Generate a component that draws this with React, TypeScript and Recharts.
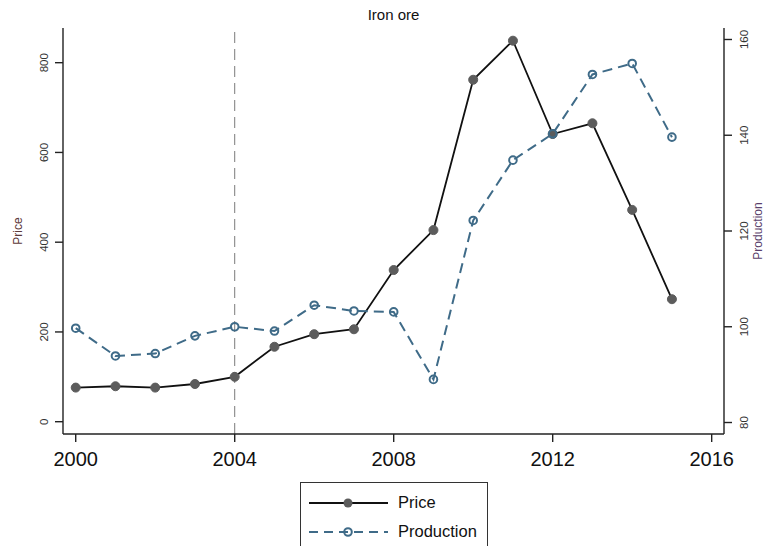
import { ComposedChart, Line, XAxis, YAxis, ReferenceLine, Legend } from 'recharts';

const years = [2000, 2001, 2002, 2003, 2004, 2005, 2006, 2007, 2008, 2009, 2010, 2011, 2012, 2013, 2014, 2015];
const price = [76, 79, 76, 84, 100, 167, 195, 206, 338, 427, 762, 849, 641, 665, 472, 273];
const production = [99.7, 93.9, 94.4, 98.1, 100.0, 99.1, 104.5, 103.3, 103.1, 89.0, 122.2, 134.8, 140.3, 152.7, 155.0, 139.6];

const yearTicks = [2000, 2004, 2008, 2012, 2016];
const priceTicks = [0, 200, 400, 600, 800];
const productionTicks = [80, 100, 120, 140, 160];

const FONT = '"Liberation Sans", Arial, Helvetica, sans-serif';
const PRICE_LINE = '#111111';
const PRICE_DOT = '#5c5c5c';
const PROD_COLOR = '#3f6b88';

const data = years.map((year, i) => ({ year, price: price[i], production: production[i] }));

// vertical tick labels, reading bottom to top
const LeftTick = ({ x, y, payload }: any) => {
  const bx = x - 5;
  return (
    <text x={bx} y={y} transform={`rotate(-90, ${bx}, ${y})`} textAnchor="middle" fontSize={11.5} fill="#333" fontFamily={FONT}>
      {payload.value}
    </text>
  );
};

const RightTick = ({ x, y, payload }: any) => {
  const bx = x + 14;
  return (
    <text x={bx} y={y} transform={`rotate(-90, ${bx}, ${y})`} textAnchor="middle" fontSize={11.5} fill="#333" fontFamily={FONT}>
      {payload.value}
    </text>
  );
};

const AxisTitle = ({ viewBox, value, dx, color }: any) => {
  const x = viewBox.x + dx;
  const y = viewBox.y + viewBox.height / 2;
  return (
    <text x={x} y={y} transform={`rotate(-90, ${x}, ${y})`} textAnchor="middle" fontSize={12} fill={color} fontFamily={FONT}>
      {value}
    </text>
  );
};

const LegendBox = () => (
  <div
    style={{
      boxSizing: 'border-box',
      height: 64,
      borderTop: '1px solid #333',
      borderLeft: '1px solid #333',
      borderRight: '1px solid #333',
      background: '#fff',
      fontFamily: FONT,
      fontSize: 16.5,
      color: '#111',
      paddingTop: 5,
    }}
  >
    <div style={{ display: 'flex', alignItems: 'center', height: 29 }}>
      <svg width={97} height={14} style={{ display: 'block' }}>
        <line x1={8} y1={7} x2={87} y2={7} stroke={PRICE_LINE} strokeWidth={1.8} />
        <circle cx={47} cy={7} r={4.5} fill={PRICE_DOT} />
      </svg>
      <span>Price</span>
    </div>
    <div style={{ display: 'flex', alignItems: 'center', height: 29 }}>
      <svg width={97} height={14} style={{ display: 'block' }}>
        <line x1={8} y1={7} x2={87} y2={7} stroke={PROD_COLOR} strokeWidth={2} strokeDasharray="9 6" />
        <circle cx={47} cy={7} r={3.8} fill="none" stroke={PROD_COLOR} strokeWidth={2} />
      </svg>
      <span>Production</span>
    </div>
  </div>
);

export default function App() {
  return (
    <div style={{ position: 'absolute', left: 0, top: 0, width: 764, height: 546, overflow: 'hidden', background: '#fff' }}>
      <div
        style={{
          position: 'absolute',
          left: 63,
          top: 5,
          width: 661,
          textAlign: 'center',
          fontFamily: FONT,
          fontSize: 15,
          lineHeight: '20px',
          color: '#111',
          zIndex: 1,
        }}
      >
        Iron ore
      </div>
      <ComposedChart width={764} height={546} data={data} margin={{ top: 28, right: 0, bottom: 0, left: 0 }}>
        <XAxis
          dataKey="year"
          type="number"
          domain={[1999.68, 2016.31]}
          allowDataOverflow
          ticks={yearTicks}
          interval={0}
          height={112}
          tickSize={8}
          tickMargin={10}
          stroke="#222"
          strokeWidth={1.4}
          tick={{ fontSize: 20, fill: '#111', fontFamily: FONT }}
        />
        <XAxis
          xAxisId="top"
          orientation="top"
          type="number"
          domain={[1999.68, 2016.31]}
          allowDataOverflow
          height={0}
          tick={false}
          tickLine={false}
          stroke="#333"
          strokeWidth={1.6}
        />
        <YAxis
          yAxisId="left"
          type="number"
          domain={[-27.4, 877.3]}
          allowDataOverflow
          ticks={priceTicks}
          interval={0}
          width={63}
          tickSize={8}
          stroke="#222"
          strokeWidth={1.4}
          tick={<LeftTick />}
          label={<AxisTitle value="Price" dx={21.5} color="#5e3a3a" />}
        />
        <YAxis
          yAxisId="right"
          orientation="right"
          type="number"
          domain={[77.6, 162.4]}
          allowDataOverflow
          ticks={productionTicks}
          interval={0}
          width={40}
          tickSize={8}
          stroke="#222"
          strokeWidth={1.4}
          tick={<RightTick />}
          label={<AxisTitle value="Production" dx={38} color="#5b3f6b" />}
        />
        <ReferenceLine x={2004} yAxisId="left" stroke="#7a7a7a" strokeWidth={1} strokeDasharray="11 6" />
        <Line
          yAxisId="left"
          dataKey="price"
          stroke={PRICE_LINE}
          strokeWidth={1.8}
          dot={{ r: 4.5, fill: PRICE_DOT, stroke: PRICE_DOT, strokeWidth: 1 }}
          activeDot={false}
          isAnimationActive={false}
        />
        <Line
          yAxisId="right"
          dataKey="production"
          stroke={PROD_COLOR}
          strokeWidth={2}
          strokeDasharray="10 6"
          dot={{ r: 3.8, fill: 'none', stroke: PROD_COLOR, strokeWidth: 2, strokeDasharray: '0' }}
          activeDot={false}
          isAnimationActive={false}
        />
        <Legend
          layout="vertical"
          verticalAlign="middle"
          align="center"
          content={<LegendBox />}
          wrapperStyle={{ left: 300, top: 482, width: 188, height: 64 }}
        />
      </ComposedChart>
    </div>
  );
}
